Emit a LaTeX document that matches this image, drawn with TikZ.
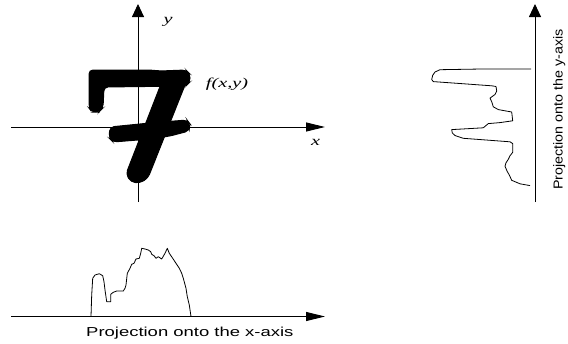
\documentclass[tikz,border=0pt]{standalone}
\usepackage{fontspec}
\usetikzlibrary{arrows.meta}
\newfontfamily\axsans[FakeStretch=1.42]{Liberation Sans}
\newfontfamily\axsansv[FakeStretch=1.1]{Liberation Sans}
\newfontfamily\axserif[FakeStretch=1.5]{Liberation Serif}
\begin{document}
\begin{tikzpicture}[x=1pt,y=-1pt,
  axis/.style={line width=0.9pt},
  harrow/.style={-{Triangle[length=19pt,width=9pt]}},
  varrow/.style={-{Triangle[length=13pt,width=12pt]}},
  curve/.style={line width=0.8pt, line join=round},
  seven/.style={fill=black, draw=black, line width=1pt, rounded corners=4pt},
  mathlbl/.style={inner sep=0pt, font=\axserif\itshape\fontsize{13.5}{15}\selectfont},
  caption/.style={inner sep=0pt, font=\axsans\fontsize{13}{15}\selectfont, anchor=base west},
  vcaption/.style={inner sep=0pt, font=\axsansv\fontsize{13}{15}\selectfont, anchor=base west, rotate=90},
]
\useasboundingbox (0,0) rectangle (568,343);

% coordinates of axes
\coordinate (xl) at (11,127);
\coordinate (xr) at (325,127);
\coordinate (yb) at (138,202);
\coordinate (yt) at (138,4);
\coordinate (pl) at (11,316.5);
\coordinate (pr) at (325,316.5);
\coordinate (qb) at (535,202);
\coordinate (qt) at (535,4);

% the digit 7
\path[seven] (89,70) -- (150,70) -- (160,71) -- (186,70) -- (190,74) -- (190,82)
  -- (186,86) -- (104,87) -- (103,108) -- (99,112) -- (92,112) -- (89,108) -- cycle;
\path[seven] (161,84) -- (187,80) -- (148,178) -- (140,183) -- (131,182) -- (126,174) -- cycle;
\path[seven] (110,127) -- (150,123) -- (187,120) -- (190,124) -- (189,131) -- (170,136)
  -- (150,139) -- (113,142) -- (109,138) -- cycle;

% axes
\draw[axis,harrow] (xl) -- (xr);
\draw[axis,varrow] (yb) -- (yt);
\draw[axis,harrow] (pl) -- (pr);
\draw[axis,varrow] (qb) -- (qt);

% labels
\node[mathlbl] (ylab) at (168,22) {y};
\node[mathlbl] (xlab) at (315.5,142) {x};
\node[mathlbl] (flab) at (227,84) {f(x,y)};
\node[caption] (capx) at (86,336.7) {Projection onto the x-axis};
\node[vcaption] (capy) at (562.7,190) {Projection onto the y-axis};

% projection onto x-axis
\draw[curve] (91,316.5) -- (91.7,295) -- (92.7,278.3) -- (95,275) -- (99.3,273.7)
  -- (102.7,275.7) -- (104,281.7) -- (105,290) -- (106.7,301.7) -- (110.7,301.7)
  -- (110.7,294.3) -- (113.3,292.3) -- (116.7,291) -- (123.3,291) -- (125,288.3)
  -- (126,285) -- (127.3,273.3) -- (130,268.3) -- (131.7,264.3) -- (134,263.3)
  -- (136,259) -- (139.3,258.3) -- (140.7,253.3) -- (141.7,248.3) -- (145,249)
  -- (148.3,250) -- (150.7,251.7) -- (151.7,254.3) -- (154,255.7) -- (156,258.3)
  -- (158.3,256.7) -- (161.7,259) -- (165,253.3) -- (167.3,248.3) -- (169.3,253.3)
  -- (172.7,258.3) -- (176,263.3) -- (179.3,268.3) -- (181.7,273.3) -- (183.3,278.3)
  -- (186,288.3) -- (187.3,296.7) -- (189.3,305) -- (191,316.5);

% projection onto y-axis
\draw[curve] (531,69) -- (481.7,69) -- (440,69.7) -- (435,72) -- (432.7,75.3)
  -- (431.7,79.5) -- (433.3,81.6) -- (491.7,85.8) -- (496,86.5) -- (496.7,91)
  -- (495,94.5) -- (490,98.1) -- (491.7,101.6) -- (493.3,106.8) -- (498.3,109.6)
  -- (511.7,112) -- (512.7,120.8) -- (500,122.6) -- (488.3,123.6) -- (483.3,127.8)
  -- (451.7,129.6) -- (452.3,133) -- (455,135.5) -- (463.3,138.3) -- (510,141.8)
  -- (512.7,143.6) -- (512.7,152.3) -- (510,155.8) -- (508.3,159.3) -- (506,162.8)
  -- (505,166.3) -- (507.3,171.6) -- (509.3,175) -- (511.7,180.3) -- (520,183.8)
  -- (530,185.6);
\end{tikzpicture}
\end{document}
